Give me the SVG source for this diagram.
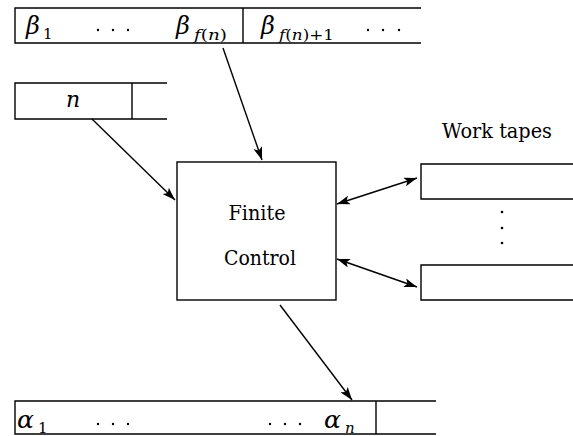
<svg xmlns="http://www.w3.org/2000/svg" width="573" height="436" viewBox="0 0 573 436">
  <defs>
    <marker id="arrow" viewBox="0 0 13 9" refX="13" refY="4.5" markerWidth="13" markerHeight="9" markerUnits="userSpaceOnUse" orient="auto-start-reverse">
      <path d="M0,0 L13,4.5 L0,9 L3,4.5 Z" fill="#000"/>
    </marker>
  </defs>
  <style>
    .tape { fill: none; stroke: #000; stroke-width: 1.4; }
    .box { fill: #fff; stroke: #000; stroke-width: 1.4; }
    .conn { fill: none; stroke: #000; stroke-width: 1.4; }
    .mi { font-style: italic; }
    .sub { font-size: 15px; }
    .dot { fill: #000; }
  </style>

  <rect width="573" height="436" fill="#fff"/>

  <g font-family="'DejaVu Serif', 'Liberation Serif', serif" fill="#000">
  <!-- output tape: beta symbols -->
  <g id="beta-tape">
    <path class="tape" d="M421,8 H15 V43 H421 M243,8 V43"/>
    <text class="mi" x="26" y="34" font-size="24">β</text>
    <text class="sub" x="43" y="39">1</text>
    <g class="dot"><circle cx="98" cy="30" r="1.2"/><circle cx="113" cy="30" r="1.2"/><circle cx="128" cy="30" r="1.2"/></g>
    <text class="mi" x="176" y="34" font-size="24">β</text>
    <text class="sub" x="194" y="40" textLength="33" lengthAdjust="spacingAndGlyphs"><tspan font-style="italic">f</tspan>(<tspan font-style="italic">n</tspan>)</text>
    <text class="mi" x="261" y="34" font-size="24">β</text>
    <text class="sub" x="279" y="40" textLength="55" lengthAdjust="spacingAndGlyphs"><tspan font-style="italic">f</tspan>(<tspan font-style="italic">n</tspan>)+1</text>
    <g class="dot"><circle cx="368" cy="30" r="1.2"/><circle cx="383" cy="30" r="1.2"/><circle cx="399" cy="30" r="1.2"/></g>
  </g>

  <!-- input length tape -->
  <g id="n-tape">
    <path class="tape" d="M167,83 H15 V119 H167 M132,83 V119"/>
    <text class="mi" x="66" y="107" font-size="22">n</text>
  </g>

  <!-- finite control -->
  <g id="finite-control">
    <rect class="box" x="177" y="162" width="159" height="138"/>
    <text x="257" y="220" font-size="21" text-anchor="middle" textLength="57" lengthAdjust="spacingAndGlyphs">Finite</text>
    <text x="260" y="265" font-size="21" text-anchor="middle" textLength="72" lengthAdjust="spacingAndGlyphs">Control</text>
  </g>

  <!-- work tapes -->
  <g id="work-tapes">
    <text x="442" y="138" font-size="20" textLength="110" lengthAdjust="spacingAndGlyphs">Work tapes</text>
    <path class="tape" d="M573,164 H421 V199 H573"/>
    <g class="dot"><circle cx="502" cy="212" r="1.3"/><circle cx="502" cy="228" r="1.3"/><circle cx="502" cy="243" r="1.3"/></g>
    <path class="tape" d="M573,265 H421 V300 H573"/>
  </g>

  <!-- input tape: alpha symbols -->
  <g id="alpha-tape">
    <path class="tape" d="M436,401 H15 V434 H436 M376,401 V434"/>
    <text class="mi" x="17" y="428" font-size="25">α</text>
    <text class="sub" x="38" y="433">1</text>
    <g class="dot"><circle cx="98" cy="424" r="1.2"/><circle cx="113" cy="424" r="1.2"/><circle cx="128" cy="424" r="1.2"/></g>
    <g class="dot"><circle cx="270" cy="424" r="1.2"/><circle cx="285" cy="424" r="1.2"/><circle cx="300" cy="424" r="1.2"/></g>
    <text class="mi" x="324" y="428" font-size="25">α</text>
    <text class="sub" x="345" y="433" font-style="italic">n</text>
  </g>
  </g>

  <!-- connectors -->
  <g id="connectors">
    <line class="conn" x1="223" y1="48" x2="262" y2="160" marker-end="url(#arrow)"/>
    <line class="conn" x1="92" y1="119" x2="175" y2="200" marker-end="url(#arrow)"/>
    <line class="conn" x1="337" y1="204" x2="417" y2="178" marker-start="url(#arrow)" marker-end="url(#arrow)"/>
    <line class="conn" x1="337" y1="259" x2="417" y2="287" marker-start="url(#arrow)" marker-end="url(#arrow)"/>
    <line class="conn" x1="280" y1="305" x2="352" y2="400" marker-end="url(#arrow)"/>
  </g>
</svg>
